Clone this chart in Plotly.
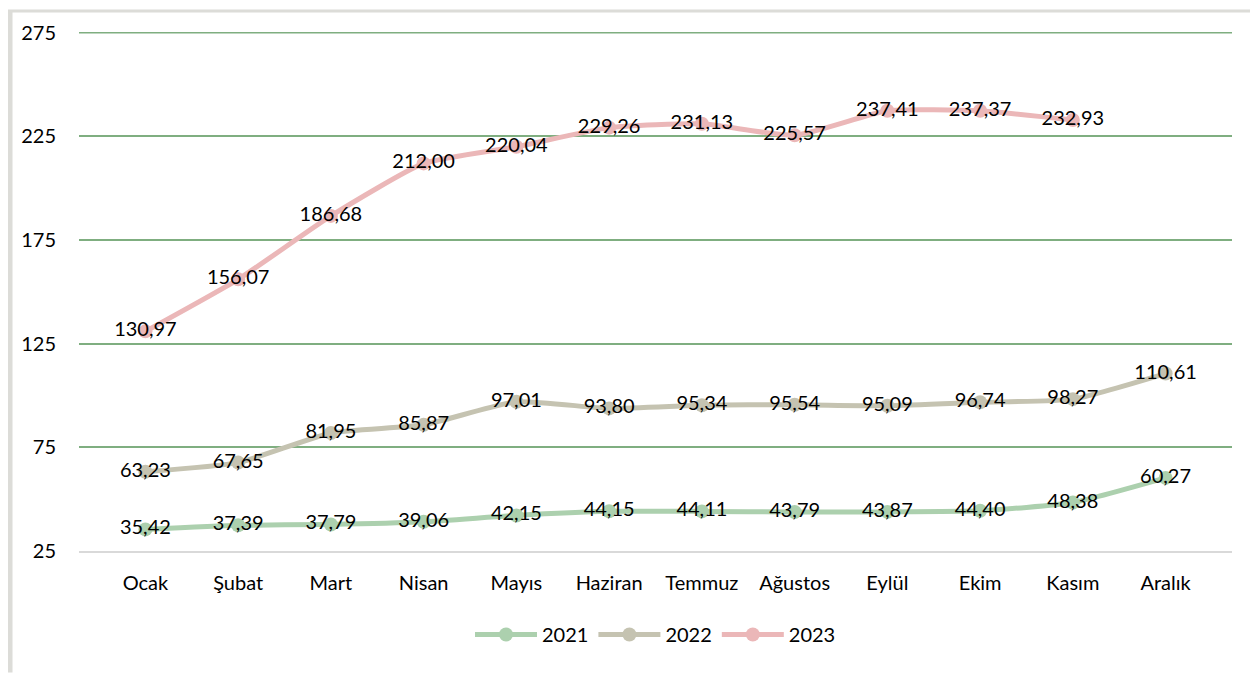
import plotly.graph_objects as go

# Aylık değerler (2021-2023)
aylar = ["Ocak", "Şubat", "Mart", "Nisan", "Mayıs", "Haziran", "Temmuz",
         "Ağustos", "Eylül", "Ekim", "Kasım", "Aralık"]
y2021 = [35.42, 37.39, 37.79, 39.06, 42.15, 44.15, 44.11, 43.79, 43.87, 44.40, 48.38, 60.27]
y2022 = [63.23, 67.65, 81.95, 85.87, 97.01, 93.80, 95.34, 95.54, 95.09, 96.74, 98.27, 110.61]
y2023 = [130.97, 156.07, 186.68, 212.00, 220.04, 229.26, 231.13, 225.57, 237.41, 237.37, 232.93]
y_ticks = [25, 75, 125, 175, 225, 275]

seriler = [
    ("2021", y2021, "#acd0ae"),
    ("2022", y2022, "#c5c3b1"),
    ("2023", y2023, "#ebb7b8"),
]

FONT = "Lato"
GRID = "#7fae80"

# sayfanın 8px body kenar boşluğu hesaba katılıyor
W, H = 1250, 665
L, R, T, B = 71, 26, 22, 122
PW, PH = W - L - R, H - T - B


def etiket(v):
    # Ondalık ayırıcı olarak virgül
    return f"{v:.2f}".replace(".", ",")


fig = go.Figure()
for ad, degerler, renk in seriler:
    fig.add_trace(go.Scatter(
        x=aylar[:len(degerler)],
        y=degerler,
        name=ad,
        mode="lines+markers+text",
        line=dict(color=renk, width=5, shape="spline", smoothing=0.5),
        marker=dict(color=renk, size=14),
        text=[etiket(v) for v in degerler],
        textposition="middle center",
        textfont=dict(family=FONT, size=20, color="#000000"),
    ))

fig.update_layout(
    width=W,
    height=H,
    margin=dict(l=L, r=R, t=T, b=B),
    paper_bgcolor="white",
    plot_bgcolor="white",
    font=dict(family=FONT, size=20, color="#000000"),
    showlegend=True,
    legend=dict(
        orientation="h",
        x=0.5, xanchor="center",
        y=-0.161, yanchor="middle",
        font=dict(family=FONT, size=20),
        itemwidth=62,
        traceorder="normal",
    ),
    xaxis=dict(
        type="category",
        categoryorder="array",
        categoryarray=aylar,
        showgrid=False,
        showline=True,
        linecolor="#d9d9d9",
        linewidth=2,
        ticks="",
        ticklabelstandoff=13,
        tickfont=dict(family=FONT, size=20),
    ),
    yaxis=dict(
        range=[25, 275.4],
        tickvals=y_ticks,
        showgrid=True,
        gridcolor=GRID,
        gridwidth=1.5,
        zeroline=False,
        showline=False,
        ticks="",
        ticklabelstandoff=22,
        tickfont=dict(family=FONT, size=20),
    ),
    shapes=[
        # en üst ızgara çizgisi (plotly kenarda çizmiyor)
        dict(type="line", xref="paper", yref="y",
             x0=0, x1=1, y0=y_ticks[-1], y1=y_ticks[-1],
             line=dict(color=GRID, width=1.5), layer="below"),
        # sol ve üst çerçeve
        dict(type="line", xref="paper", yref="paper",
             x0=(-L + 2) / PW, x1=(-L + 2) / PW, y0=-B / PH, y1=(PH + T) / PH,
             line=dict(color="#dcdcd8", width=5), layer="below"),
        dict(type="line", xref="paper", yref="paper",
             x0=-L / PW, x1=(PW + R) / PW, y0=(PH + T - 1) / PH, y1=(PH + T - 1) / PH,
             line=dict(color="#dcdcd8", width=3), layer="below"),
    ],
)

fig.write_html("out.html")
